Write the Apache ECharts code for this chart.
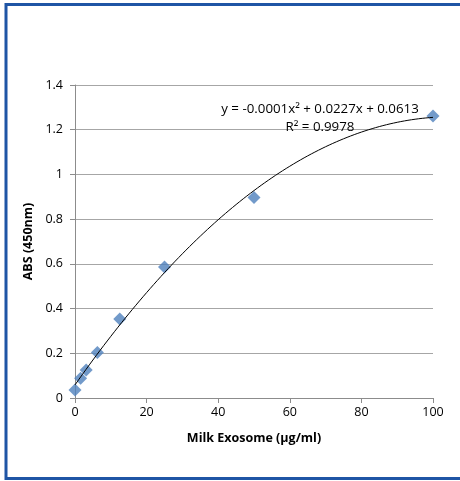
<!DOCTYPE html>
<html><head><meta charset="utf-8">
<script src="https://cdn.jsdelivr.net/npm/echarts@6/dist/echarts.min.js"></script>
<style>html,body{margin:0;padding:0;background:#fff}#c{width:460px;height:481px}</style>
</head><body><div id="c"></div>
<script>
const concentrations = [0, 1.5625, 3.125, 6.25, 12.5, 25, 50, 100];
const absorbance = [0.036, 0.088, 0.125, 0.203, 0.353, 0.586, 0.897, 1.261];
const xTicks = [0, 20, 40, 60, 80, 100];
const yTicks = [0, 0.2, 0.4, 0.6, 0.8, 1, 1.2, 1.4];
const equationText = 'y = -0.0001x\u00B2 + 0.0227x + 0.0613';
const r2Text = 'R\u00B2 = 0.9978';

// least-squares quadratic trendline (as the spreadsheet computes it)
function quadFit(xs, ys) {
  const S = [0,0,0,0,0], T = [0,0,0];
  for (let i = 0; i < xs.length; i++) {
    let p = 1;
    for (let k = 0; k < 5; k++) { S[k] += p; if (k < 3) T[k] += p * ys[i]; p *= xs[i]; }
  }
  const A = [[S[0],S[1],S[2],T[0]],[S[1],S[2],S[3],T[1]],[S[2],S[3],S[4],T[2]]];
  for (let i = 0; i < 3; i++) {
    for (let j = i + 1; j < 3; j++) {
      const f = A[j][i] / A[i][i];
      for (let k = i; k < 4; k++) A[j][k] -= f * A[i][k];
    }
  }
  const c = [0,0,0];
  for (let i = 2; i >= 0; i--) {
    let s = A[i][3];
    for (let k = i + 1; k < 3; k++) s -= A[i][k] * c[k];
    c[i] = s / A[i][i];
  }
  return c;
}
const coef = quadFit(concentrations, absorbance);
const trend = [];
for (let x = 0; x <= 100; x += 1) trend.push([x, coef[0] + coef[1] * x + coef[2] * x * x]);

const font = 'Open Sans, Liberation Sans, sans-serif';
const chart = echarts.init(document.getElementById('c'));
chart.setOption({
  animation: false,
  grid: { left: 75, right: 27, top: 85, bottom: 83 },
  xAxis: {
    type: 'value', min: 0, max: 100, interval: 20,
    name: 'Milk Exosome (\u00B5g/ml)', nameLocation: 'middle', nameGap: 34,
    nameTextStyle: { fontFamily: font, fontWeight: 'bold', fontSize: 12.5, color: '#000' },
    axisLine: { show: true, lineStyle: { color: '#8c8c8c' } },
    axisTick: { show: true, inside: false, length: 5, lineStyle: { color: '#8c8c8c' } },
    axisLabel: { fontFamily: font, fontSize: 12.5, color: '#000', margin: 8 },
    splitLine: { show: false }
  },
  yAxis: {
    type: 'value', min: 0, max: 1.4, interval: 0.2,
    name: 'ABS (450nm)', nameLocation: 'middle', nameGap: 38, nameRotate: 90,
    nameTextStyle: { fontFamily: font, fontWeight: 'bold', fontSize: 12.5, color: '#000' },
    axisLine: { show: true, lineStyle: { color: '#8c8c8c' } },
    axisTick: { show: true, inside: false, length: 5, lineStyle: { color: '#8c8c8c' } },
    axisLabel: { fontFamily: font, fontSize: 12.5, color: '#000', margin: 12,
      formatter: v => String(Math.round(v * 10) / 10) },
    splitLine: { show: true, lineStyle: { color: '#a6a6a6', width: 1 } }
  },
  series: [
    { type: 'line', data: trend, showSymbol: false, symbol: 'none', smooth: false,
      lineStyle: { color: '#000', width: 1 }, z: 3 },
    { type: 'scatter', data: concentrations.map((x, i) => [x, absorbance[i]]),
      symbol: 'diamond', symbolSize: 13,
      itemStyle: { color: '#4f81bd' }, z: 2 }
  ],
  graphic: [
    { type: 'rect', shape: { x: 6, y: 4.5, width: 470, height: 474 },
      style: { fill: 'none', stroke: '#1f55a5', lineWidth: 3 }, silent: true },
    { type: 'text', x: 320, y: 109, style: { text: equationText, font: '13.3px ' + font,
      fill: '#000', textAlign: 'center', textVerticalAlign: 'middle' }, z: 10 },
    { type: 'text', x: 320, y: 127, style: { text: r2Text, font: '13.3px ' + font,
      fill: '#000', textAlign: 'center', textVerticalAlign: 'middle' }, z: 10 }
  ]
});
</script></body></html>
